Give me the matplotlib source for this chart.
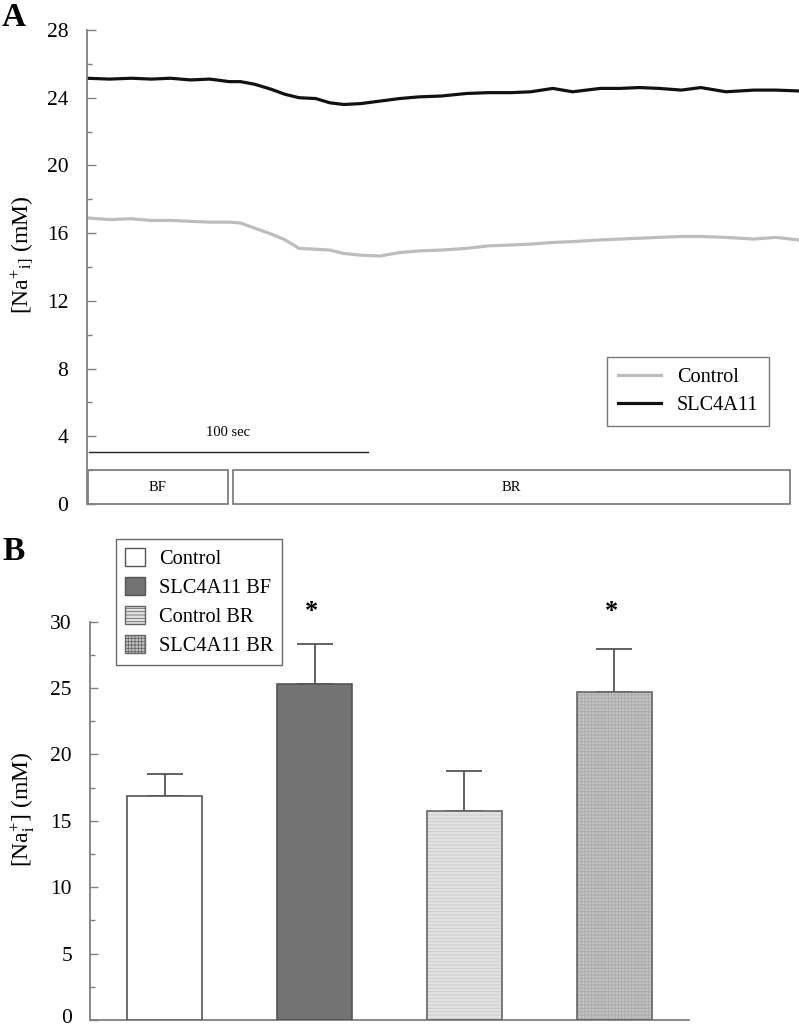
import matplotlib
matplotlib.use("Agg")
import matplotlib.pyplot as plt
from matplotlib.patches import Rectangle, Patch
from matplotlib.ticker import MultipleLocator
from matplotlib.transforms import ScaledTranslation

plt.rcParams['font.family'] = ['Liberation Serif', 'DejaVu Serif']
plt.rcParams['mathtext.fontset'] = 'custom'
plt.rcParams['mathtext.rm'] = 'Liberation Serif'
plt.rcParams['mathtext.it'] = 'Liberation Serif'
plt.rcParams['hatch.linewidth'] = 0.6

# ---------------- Panel A data (time in s, [Na+]i in mM) ----------------
time_s = [0, 8, 16, 23, 30, 37, 44, 51, 55, 60, 66, 71, 76, 82, 87, 92, 98, 105,
          112, 119, 127, 136, 144, 152, 159, 167, 174, 184, 191, 198, 205, 213,
          220, 229, 239, 247, 255]
slc4a11_trace = [25.15, 25.1, 25.15, 25.1, 25.15, 25.05, 25.1, 24.95, 24.95, 24.8,
                 24.5, 24.2, 24.0, 23.95, 23.7, 23.6, 23.65, 23.8, 23.95, 24.05,
                 24.1, 24.25, 24.3, 24.3, 24.35, 24.55, 24.35, 24.55, 24.55, 24.6,
                 24.55, 24.45, 24.6, 24.35, 24.45, 24.45, 24.4]
control_trace = [16.9, 16.8, 16.85, 16.75, 16.75, 16.7, 16.65, 16.65, 16.6, 16.3,
                 15.95, 15.6, 15.1, 15.05, 15.0, 14.8, 14.7, 14.65, 14.85, 14.95,
                 15.0, 15.1, 15.25, 15.3, 15.35, 15.45, 15.5, 15.6, 15.65, 15.7,
                 15.75, 15.8, 15.8, 15.75, 15.65, 15.75, 15.6]
trace_labels = ["Control", "SLC4A11"]
phase_labels = ["BF", "BR"]
phase_start = [0.4, 52.3]
phase_end = [50.5, 252.0]
scale_bar_s = 100

# ---------------- Panel B data ----------------
bar_labels = ["Control", "SLC4A11 BF", "Control BR", "SLC4A11 BR"]
bar_means = [16.87, 25.28, 15.74, 24.68]
bar_sem = [1.65, 3.06, 3.0, 3.26]
significant = [False, True, False, True]

W, H = 799, 1029
fig = plt.figure(figsize=(W / 100, H / 100), dpi=100)

def fx(px):
    return px / W

def fy(py):
    return 1 - py / H

axis_gray = '#808080'

# ---------------- Panel A ----------------
axA = fig.add_axes([fx(87), fy(504), fx(799) - fx(87), fy(30) - fy(504)])
axA.plot(time_s, control_trace, color='#bdbdbd', lw=2.3, label=trace_labels[0])
axA.plot(time_s, slc4a11_trace, color='#111111', lw=2.3, label=trace_labels[1])
axA.set_xlim(0, 255.2)
axA.set_ylim(0, 28)
for s in ['top', 'right', 'bottom']:
    axA.spines[s].set_visible(False)
axA.spines['left'].set_color(axis_gray)
axA.spines['left'].set_linewidth(1.3)
axA.set_xticks([])
axA.yaxis.set_major_locator(MultipleLocator(4))
axA.yaxis.set_minor_locator(MultipleLocator(2))
axA.tick_params(axis='y', which='major', direction='in', length=6.5, width=1.0,
                color=axis_gray, pad=13.5, labelsize=15.5)
axA.tick_params(axis='y', which='minor', direction='in', length=3.4, width=1.0,
                color=axis_gray)
axA.set_ylabel(r'[Na$^{\mathregular{+}}$$_{\mathregular{i]}}$ (mM)', fontsize=17)
axA.yaxis.set_label_coords(-0.072, 0.525)

for lab, x0, x1 in zip(phase_labels, phase_start, phase_end):
    axA.add_patch(Rectangle((x0, 0.0), x1 - x0, 2.0, fill=False,
                            edgecolor='#6a6a6a', lw=1.1, clip_on=False))
    axA.text((x0 + x1) / 2, 1.0, lab, ha='center', va='center', fontsize=10.5)

axA.plot([0.7, 0.7 + scale_bar_s], [3.07, 3.07], color='#222222', lw=1.0)
axA.text(0.7 + scale_bar_s / 2, 4.2, f'{scale_bar_s} sec', ha='center',
         va='center', fontsize=10.5)

legA = axA.legend(loc='upper left', bbox_to_anchor=(fx(607), fy(357)),
                  bbox_transform=fig.transFigure, borderaxespad=0,
                  fontsize=14.6, frameon=True, fancybox=False, handlelength=2.1,
                  handletextpad=0.8, borderpad=0.55, labelspacing=0.4)
legA.get_frame().set_edgecolor('#555555')
legA.get_frame().set_linewidth(1.0)

fig.text(fx(2), fy(18), 'A', fontsize=24, fontweight='bold', va='center', ha='left')

# ---------------- Panel B ----------------
axB = fig.add_axes([fx(90), fy(1020), fx(689) - fx(90), fy(621.7) - fy(1020)])
x = list(range(len(bar_means)))
face = ['white', '#737373', '#e2e2e2', '#c4c4c4']
hatch = [None, None, '-----', '+++++']
hatch_col = ['#666666', '#666666', '#c9c9c9', '#a9a9a9']
for i in x:
    if hatch[i]:
        axB.bar(i, bar_means[i], width=0.5, color=face[i], hatch=hatch[i],
                edgecolor=hatch_col[i], lw=0, zorder=2)
        axB.bar(i, bar_means[i], width=0.5, fill=False, edgecolor='#666666',
                lw=1.2, zorder=3)
    else:
        axB.bar(i, bar_means[i], width=0.5, color=face[i], edgecolor='#555555',
                lw=1.2, zorder=3)
axB.errorbar(x, bar_means, yerr=[[0] * len(bar_sem), bar_sem], fmt='none',
             ecolor='#555555', elinewidth=1.3, capsize=13, capthick=1.3, zorder=1)
for i in x:
    if significant[i]:
        axB.text(i - 0.02, 30.75, '*', ha='center', va='center', fontsize=19,
                 fontweight='bold', clip_on=False)

axB.set_xlim(-0.5, 3.5)
axB.set_ylim(0, 30)
for s in ['top', 'right']:
    axB.spines[s].set_visible(False)
for s in ['left', 'bottom']:
    axB.spines[s].set_color(axis_gray)
    axB.spines[s].set_linewidth(1.3)
axB.set_xticks([])
axB.yaxis.set_major_locator(MultipleLocator(5))
axB.yaxis.set_minor_locator(MultipleLocator(2.5))
axB.tick_params(axis='y', which='major', direction='in', length=5.5, width=1.0,
                color=axis_gray, pad=13, labelsize=15.5)
axB.tick_params(axis='y', which='minor', direction='in', length=3.6, width=1.0,
                color=axis_gray)
axB.set_ylabel(r'[Na$^{\mathregular{+}}_{\mathregular{i}}$] (mM)', fontsize=17)
axB.yaxis.set_label_coords(-0.088, 0.53)

handles = []
for i in x:
    if hatch[i]:
        handles.append(Patch(facecolor=face[i], hatch=hatch[i], edgecolor='#666666',
                             lw=1.0, label=bar_labels[i]))
    else:
        handles.append(Patch(facecolor=face[i], edgecolor='#555555', lw=1.0,
                             label=bar_labels[i]))
legB = axB.legend(handles=handles, loc='upper left',
                  bbox_to_anchor=(fx(116), fy(539)), bbox_transform=fig.transFigure,
                  borderaxespad=0, fontsize=14.7, frameon=True, fancybox=False,
                  handlelength=0.95, handleheight=0.95, handletextpad=0.7,
                  borderpad=0.45, labelspacing=0.4)
legB.get_frame().set_edgecolor('#444444')
legB.get_frame().set_linewidth(1.0)

fig.text(fx(2), fy(552), 'B', fontsize=24, fontweight='bold', va='center', ha='left')

# nudge the bottom "0" label of panel B up slightly so it stays inside the figure
fig.canvas.draw()
for tick in axB.yaxis.get_major_ticks():
    if abs(tick.get_loc()) < 1e-9:
        lbl = tick.label1
        lbl.set_transform(lbl.get_transform() +
                          ScaledTranslation(0, 3 / 72, fig.dpi_scale_trans))

fig.savefig('out.png', dpi=100)
